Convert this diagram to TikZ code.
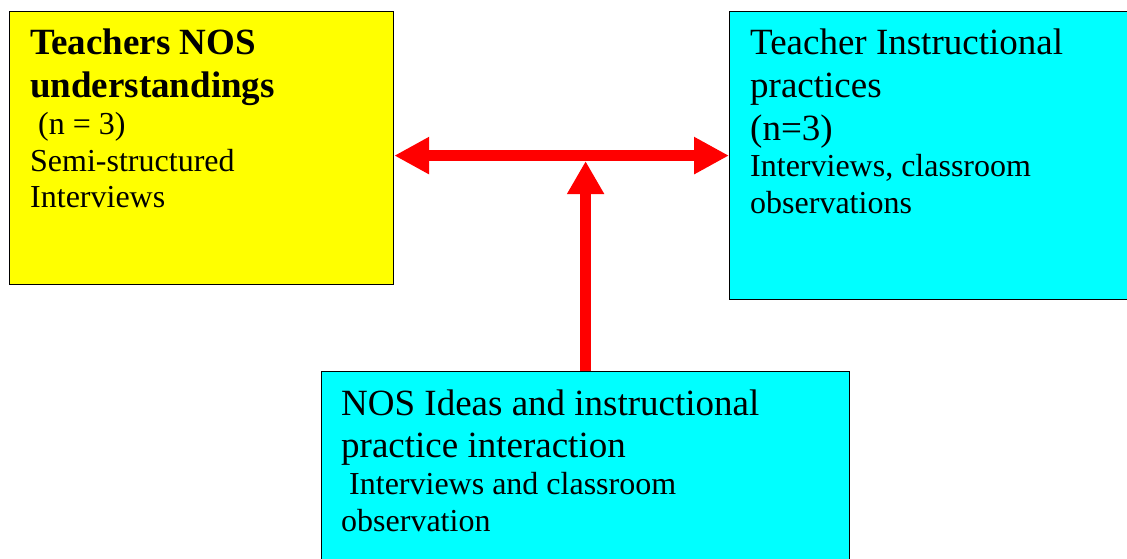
\documentclass[tikz,border=0pt]{standalone}
\usepackage{fontspec}
\setmainfont{Liberation Serif}
\usetikzlibrary{arrows.meta}
\definecolor{boxyellow}{RGB}{255,255,0}
\definecolor{boxcyan}{RGB}{0,255,255}
\definecolor{arrowred}{RGB}{255,0,0}
\newcommand\ttlsize{\fontsize{37}{42.6}\selectfont\spaceskip=0pt\xspaceskip=0pt\relax}
\newcommand\bodysize{\fontsize{32}{36.8}\selectfont\spaceskip=0pt\xspaceskip=0pt\relax}
\tikzset{
  box/.style={draw=black, line width=1.2pt, rectangle, inner sep=0pt, anchor=north west},
  txt/.style={anchor=base west, inner sep=0pt, align=left, text width=#1},
  bigarrow/.style={draw=arrowred, line width=11pt}
}
\begin{document}
\begin{tikzpicture}[x=1pt,y=1pt]
\clip (0,0) rectangle (1127,-559);
\node[box, fill=boxyellow, minimum width=384pt, minimum height=273pt] (tn) at (9,-11) {};
\node[box, fill=boxcyan, minimum width=420pt, minimum height=288pt] (tp) at (729,-11) {};
\node[box, fill=boxcyan, minimum width=528pt, minimum height=210pt] (ni) at (321,-371) {};
\node[txt=360pt] (tnt) at ([shift={(21,-44)}]tn.north west)
  {{\ttlsize\bfseries Teachers NOS\\understandings\par}{\bodysize\hspace*{.25em}(n = 3)\\Semi-structured\\Interviews\par}};
\node[txt=380pt] (tpt) at ([shift={(21,-44)}]tp.north west)
  {{\ttlsize Teacher Instructional\\practices\\(n=3)\par}{\bodysize Interviews, classroom\\observations\par}};
\node[txt=500pt] (nit) at ([shift={(20,-44)}]ni.north west)
  {{\ttlsize NOS Ideas and instructional\\practice interaction\par}{\bodysize\hspace*{.25em}Interviews and classroom\\observation\par}};
\draw[bigarrow, {Triangle[length=35pt,width=35pt]}-{Triangle[length=35pt,width=35pt]}] (tn.east |- tp.west) -- (tp.west);
\draw[bigarrow, -{Triangle[length=33pt,width=35pt]}] (ni.north) -- ([yshift=-5.5pt]ni.north |- tp.west);
\end{tikzpicture}
\end{document}
